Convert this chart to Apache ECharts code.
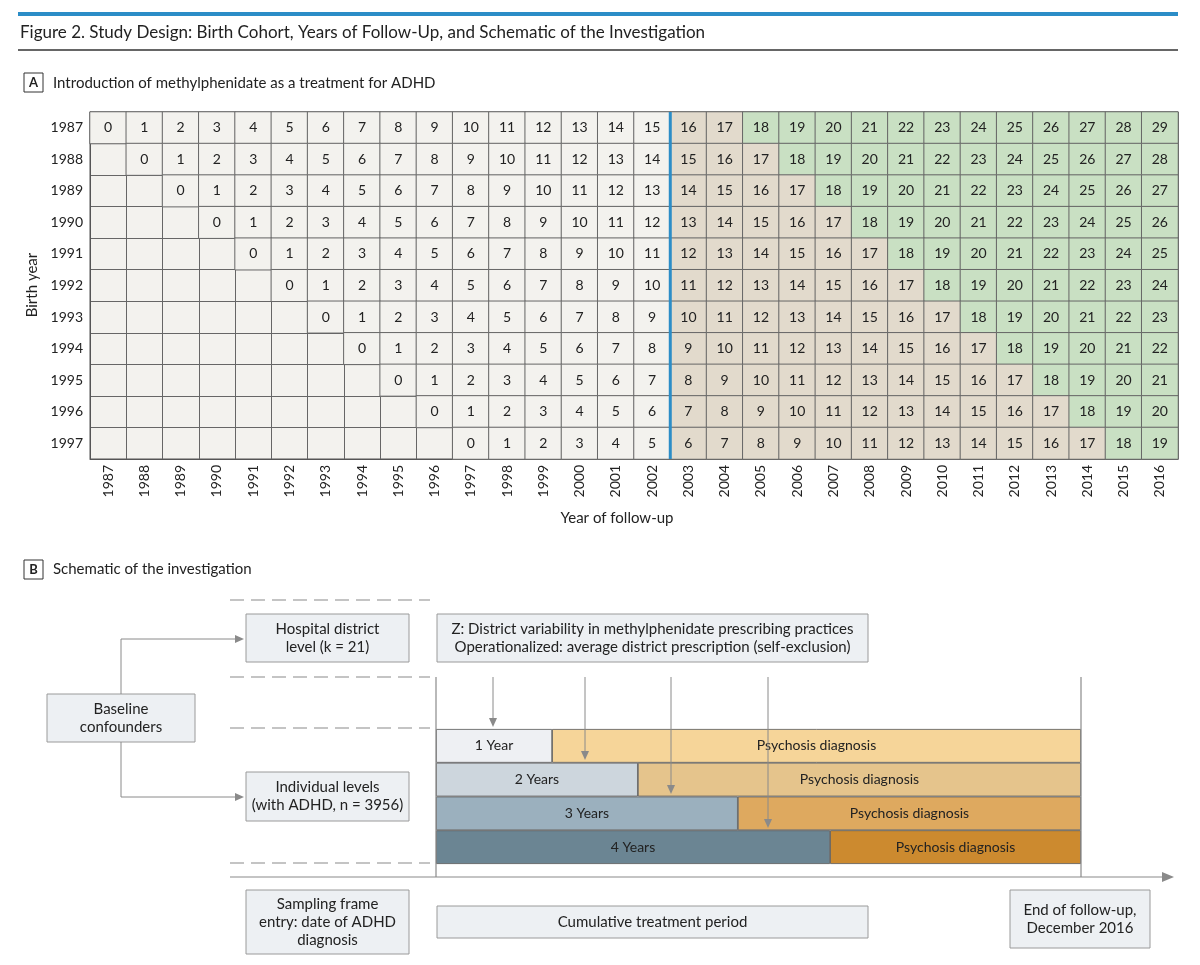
<!DOCTYPE html>
<html>
<head>
<meta charset="utf-8">
<script src="https://cdn.jsdelivr.net/npm/echarts@6/dist/echarts.min.js"></script>
<style>
html,body{margin:0;padding:0;background:#fff}
#chart{width:1200px;height:965px}
</style>
</head>
<body>
<div id="chart"></div>
<script>
// 出生年份与随访年份
var birthYears = ['1987','1988','1989','1990','1991','1992','1993','1994','1995','1996','1997'];
var followYears = ['1987','1988','1989','1990','1991','1992','1993','1994','1995','1996','1997','1998','1999','2000','2001',
  '2002','2003','2004','2005','2006','2007','2008','2009','2010','2011','2012','2013','2014','2015','2016'];
var n = null;
// 每个出生队列的随访年数（表格读取）
var ages1987 = [0,1,2,3,4,5,6,7,8,9,10,11,12,13,14,15,16,17,18,19,20,21,22,23,24,25,26,27,28,29];
var ages1988 = [n,0,1,2,3,4,5,6,7,8,9,10,11,12,13,14,15,16,17,18,19,20,21,22,23,24,25,26,27,28];
var ages1989 = [n,n,0,1,2,3,4,5,6,7,8,9,10,11,12,13,14,15,16,17,18,19,20,21,22,23,24,25,26,27];
var ages1990 = [n,n,n,0,1,2,3,4,5,6,7,8,9,10,11,12,13,14,15,16,17,18,19,20,21,22,23,24,25,26];
var ages1991 = [n,n,n,n,0,1,2,3,4,5,6,7,8,9,10,11,12,13,14,15,16,17,18,19,20,21,22,23,24,25];
var ages1992 = [n,n,n,n,n,0,1,2,3,4,5,6,7,8,9,10,11,12,13,14,15,16,17,18,19,20,21,22,23,24];
var ages1993 = [n,n,n,n,n,n,0,1,2,3,4,5,6,7,8,9,10,11,12,13,14,15,16,17,18,19,20,21,22,23];
var ages1994 = [n,n,n,n,n,n,n,0,1,2,3,4,5,6,7,8,9,10,11,12,13,14,15,16,17,18,19,20,21,22];
var ages1995 = [n,n,n,n,n,n,n,n,0,1,2,3,4,5,6,7,8,9,10,11,12,13,14,15,16,17,18,19,20,21];
var ages1996 = [n,n,n,n,n,n,n,n,n,0,1,2,3,4,5,6,7,8,9,10,11,12,13,14,15,16,17,18,19,20];
var ages1997 = [n,n,n,n,n,n,n,n,n,n,0,1,2,3,4,5,6,7,8,9,10,11,12,13,14,15,16,17,18,19];
var cohortAges = [ages1987,ages1988,ages1989,ages1990,ages1991,ages1992,ages1993,ages1994,ages1995,ages1996,ages1997];

// B 部分：治疗期与精神病诊断期（随访期的百分比）
var periodLabels = ['1 Year','2 Years','3 Years','4 Years'];
var treatmentShare = [18, 31.3, 46.8, 61.1];
var psychosisShare = [82, 68.7, 53.2, 38.9];

var FONT = 'Lato';
var treatColors = ['#eef0f3','#cdd6dd','#9bb0be','#6b8593'];
var psyColors = ['#f6d599','#e5c48c','#dea95f','#cc8a2f'];

var cells = [];
cohortAges.forEach(function(row, r) {
  row.forEach(function(v, c) {
    if (v === null) return;
    var col = '#f3f2ee';
    if (+followYears[c] >= 2003) col = v >= 18 ? '#c9e0c3' : '#e2dacc';
    cells.push({value: [c, r, v], itemStyle: {color: col}});
  });
});

var chart = echarts.init(document.getElementById('chart'));

var option = {
  animation: false,
  textStyle: {fontFamily: FONT},
  grid: [
    {left: 90, top: 112, width: 1088, height: 347, show: true, backgroundColor: '#f3f2ee', borderColor: '#555', borderWidth: 1},
    {left: 436, top: 729, width: 645, height: 135}
  ],
  xAxis: [
    {type: 'category', data: followYears, gridIndex: 0, position: 'bottom',
      axisLine: {lineStyle: {color: '#555'}}, axisTick: {alignWithLabel: true, length: 4, lineStyle: {color: '#333'}},
      axisLabel: {rotate: 90, color: '#222', fontSize: 14, fontFamily: FONT, margin: 6},
      splitLine: {show: true, lineStyle: {color: '#666'}}},
    {type: 'value', gridIndex: 1, min: 0, max: 100, show: false}
  ],
  yAxis: [
    {type: 'category', data: birthYears, inverse: true, gridIndex: 0,
      axisLine: {lineStyle: {color: '#555'}}, axisTick: {alignWithLabel: true, length: 4, lineStyle: {color: '#333'}},
      axisLabel: {color: '#222', fontSize: 14, fontFamily: FONT, margin: 7},
      splitLine: {show: true, lineStyle: {color: '#666'}}},
    {type: 'category', data: periodLabels, inverse: true, gridIndex: 1, show: false}
  ],
  series: [
    {type: 'heatmap', xAxisIndex: 0, yAxisIndex: 0, data: cells,
      itemStyle: {borderColor: '#666', borderWidth: 1},
      label: {show: true, color: '#222', fontSize: 14, fontFamily: FONT, formatter: function(p) { return p.value[2]; }}},
    {type: 'bar', xAxisIndex: 1, yAxisIndex: 1, stack: 'p', barCategoryGap: 0,
      data: treatmentShare.map(function(v, i) { return {value: v, itemStyle: {color: treatColors[i]}}; }),
      itemStyle: {borderColor: '#555', borderWidth: 0.8},
      label: {show: true, position: 'inside', color: '#222', fontSize: 14, fontFamily: FONT,
        formatter: function(p) { return periodLabels[p.dataIndex]; }}},
    {type: 'bar', xAxisIndex: 1, yAxisIndex: 1, stack: 'p', barCategoryGap: 0,
      data: psychosisShare.map(function(v, i) { return {value: v, itemStyle: {color: psyColors[i]}}; }),
      itemStyle: {borderColor: '#555', borderWidth: 0.8},
      label: {show: true, position: 'inside', fontSize: 14, fontFamily: FONT,
        color: '#222', formatter: 'Psychosis diagnosis'}}
  ]
};
chart.setOption(option);

// 注释图形
var g = [];
var GRAY = '#8a8a8a';
function line(x1, y1, x2, y2, color, w, dash) {
  g.push({type: 'line', shape: {x1: x1, y1: y1, x2: x2, y2: y2},
    style: {stroke: color || GRAY, lineWidth: w || 1, lineDash: dash || null}, z: 10});
}
function head(x, y, dir) {
  var p = dir === 'right' ? [[x, y], [x - 9, y - 4], [x - 9, y + 4]] : [[x, y], [x - 4, y - 9], [x + 4, y - 9]];
  g.push({type: 'polygon', shape: {points: p}, style: {fill: GRAY}, z: 10});
}
function box(x1, y1, x2, y2, txt) {
  g.push({type: 'rect', shape: {x: x1, y: y1, width: x2 - x1, height: y2 - y1},
    style: {fill: '#edf0f3', stroke: '#9a9a9a', lineWidth: 1}, z: 5});
  g.push({type: 'text', x: (x1 + x2) / 2, y: (y1 + y2) / 2, z: 6,
    style: {text: txt, fill: '#222', font: '15px ' + FONT, align: 'center', verticalAlign: 'middle', lineHeight: 18}});
}
function text(x, y, t, font, opts) {
  var s = {text: t, fill: '#222', font: font, align: 'left', verticalAlign: 'middle'};
  for (var k in opts || {}) s[k] = opts[k];
  g.push({type: 'text', x: x, y: y, style: s, z: 6});
}
function letterBox(x, y, l) {
  g.push({type: 'rect', shape: {x: x, y: y, width: 19, height: 19}, style: {fill: '#fff', stroke: '#333', lineWidth: 1}});
  text(x + 9.5, y + 10, l, 'bold 13px ' + FONT, {align: 'center'});
}

g.push({type: 'rect', shape: {x: 18, y: 12, width: 1160, height: 4}, style: {fill: '#2b8dc7'}});
text(20, 33, 'Figure 2. Study Design: Birth Cohort, Years of Follow-Up, and Schematic of the Investigation', '17px ' + FONT);
line(18, 50, 1178, 50, '#333', 1.5);
letterBox(24, 73, 'A');
text(53, 83, 'Introduction of methylphenidate as a treatment for ADHD', '15px ' + FONT);
g.push({type: 'text', x: 32, y: 285, rotation: Math.PI / 2,
  style: {text: 'Birth year', fill: '#222', font: '15px ' + FONT, align: 'center', verticalAlign: 'middle'}});
text(617, 518, 'Year of follow-up', '15px ' + FONT, {align: 'center'});

// 2003 年分界线
var bx = (chart.convertToPixel({xAxisIndex: 0}, 15) + chart.convertToPixel({xAxisIndex: 0}, 16)) / 2;
line(bx, 112, bx, 459, '#2b8dc7', 3);

letterBox(24, 560, 'B');
text(53, 569, 'Schematic of the investigation', '15px ' + FONT);

[600, 677, 728, 863].forEach(function(y) { line(230, y, 430, y, GRAY, 1.2, [14, 7]); });
line(230, 877, 1163, 877, GRAY, 1.2);
g.push({type: 'polygon', shape: {points: [[1174, 877], [1162, 872], [1162, 882]]}, style: {fill: GRAY}});
line(436, 677, 436, 877, GRAY, 1.2);
line(1081, 677, 1081, 877, GRAY, 1.2);

box(246, 614, 409, 662, 'Hospital district\nlevel (k = 21)');
box(47, 694, 195, 742, 'Baseline\nconfounders');
box(246, 772, 409, 821, 'Individual levels\n(with ADHD, n = 3956)');
box(437, 614, 868, 662, 'Z: District variability in methylphenidate prescribing practices\nOperationalized: average district prescription (self-exclusion)');
box(246, 890, 409, 954, 'Sampling frame\nentry: date of ADHD\ndiagnosis');
box(437, 906, 868, 938, 'Cumulative treatment period');
box(1010, 890, 1150, 948, 'End of follow-up,\nDecember 2016');

line(121, 694, 121, 639); line(121, 639, 236, 639); head(244, 639, 'right');
line(121, 742, 121, 797); line(121, 797, 236, 797); head(244, 797, 'right');

[[493, 727], [585, 760], [671, 794], [768, 828]].forEach(function(a) {
  line(a[0], 677, a[0], a[1] - 8); head(a[0], a[1], 'down');
});

chart.setOption({graphic: g});
</script>
</body>
</html>
